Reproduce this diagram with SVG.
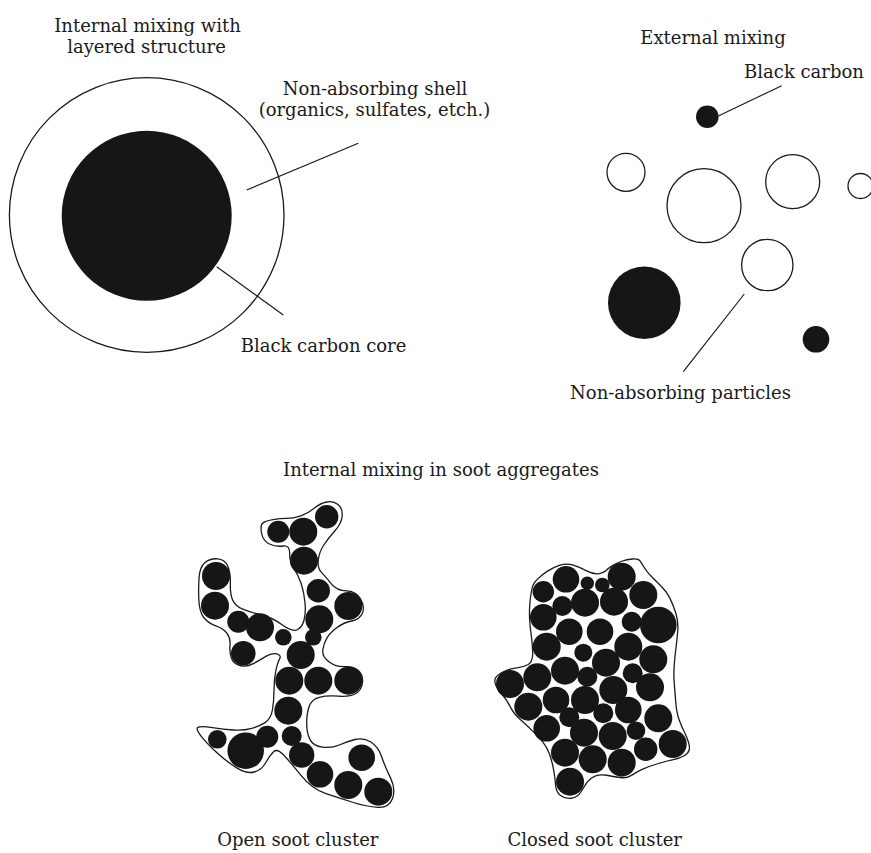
<svg xmlns="http://www.w3.org/2000/svg" width="871" height="853" viewBox="0 0 871 853">
  <style>
    text { font-family: "DejaVu Serif", "Liberation Serif", serif; font-size: 18px; fill: #1a1a1a; }
    .mid { text-anchor: middle; }
    .ring { fill: #ffffff; stroke: #1a1a1a; stroke-width: 1.3; }
    .bc { fill: #161616; stroke: none; }
    .hull { fill: #ffffff; stroke: #1a1a1a; stroke-width: 1.3; stroke-linejoin: round; }
    .leader { stroke: #1a1a1a; stroke-width: 1.2; fill: none; }
  </style>
  <rect width="871" height="853" fill="#ffffff"/>

  <!-- core-shell particle -->
  <g id="layered-particle">
    <text class="mid" x="147.5" y="31.7">Internal mixing with</text>
    <text class="mid" x="146.5" y="52.5">layered structure</text>
    <circle class="ring" cx="146.7" cy="215" r="137.3"/>
    <circle class="bc" cx="146.7" cy="215.8" r="85"/>
    <text class="mid" x="375" y="94.5">Non-absorbing shell</text>
    <text class="mid" x="374.5" y="115.5">(organics, sulfates, etch.)</text>
    <text x="240.7" y="351.7">Black carbon core</text>
  </g>

  <!-- externally mixed population -->
  <g id="external-mixing">
    <text class="mid" x="713" y="44">External mixing</text>
    <text class="mid" x="804" y="78">Black carbon</text>
    <circle class="bc" cx="707.3" cy="116.7" r="11.3"/>
    <circle class="ring" cx="626" cy="172.3" r="19"/>
    <circle class="ring" cx="704" cy="205.7" r="37"/>
    <circle class="ring" cx="792.7" cy="181.7" r="27"/>
    <circle class="ring" cx="860.5" cy="186" r="12.5"/>
    <circle class="ring" cx="767.3" cy="265" r="25.7"/>
    <circle class="bc" cx="644.3" cy="302.7" r="36.3"/>
    <circle class="bc" cx="816" cy="339.3" r="13.3"/>
    <text class="mid" x="680.5" y="399">Non-absorbing particles</text>
  </g>

  <text class="mid" x="441" y="475.7">Internal mixing in soot aggregates</text>

  <!-- open (fractal-like) soot aggregate -->
  <g id="open-cluster">
    <path class="hull" d="M261.5,533 Q260,525 263,522.85 Q266,520.7 273,519.6 Q280,518.5 286.65,518.4 Q293.3,518.3 300.8,515.8 Q308.3,513.3 314.15,508.3 Q320,503.3 326.65,502 Q333.3,500.7 338,504.5 Q342.7,508.3 342.2,515.8 Q341.7,523.3 335,530.8 Q328.3,538.3 323.8,545 Q319.3,551.7 318.3,560 Q317.3,568.3 321.65,572.65 Q326,577 331.35,583.85 Q336.7,590.7 346.35,590.85 Q356,591 360.5,598.85 Q365,606.7 362.5,613 Q360,619.3 351.65,621 Q343.3,622.7 336.65,627.85 Q330,633 327,637.85 Q324,642.7 322.85,649.7 Q321.7,656.7 329.2,662 Q336.7,667.3 345,666.65 Q353.3,666 358.3,670.5 Q363.3,675 362.5,682.5 Q361.7,690 355.85,693.5 Q350,697 338.35,696.15 Q326.7,695.3 319.2,697.3 Q311.7,699.3 309.2,706.3 Q306.7,713.3 306.7,723.3 Q306.7,733.3 310,739.65 Q313.3,746 322.5,747.15 Q331.7,748.3 339.2,745 Q346.7,741.7 355,739.5 Q363.3,737.3 370.8,742 Q378.3,746.7 381.65,756.7 Q385,766.7 390.5,777.85 Q396,789 392.5,798.5 Q389,808 377.85,807.35 Q366.7,806.7 353.35,802.5 Q340,798.3 326,793.65 Q312,789 301,775.35 Q290,761.7 283.65,755 Q277.3,748.3 273.65,751.65 Q270,755 265.85,762.5 Q261.7,770 254.2,772 Q246.7,774 236.7,767.85 Q226.7,761.7 216.7,752.5 Q206.7,743.3 200.85,735.8 Q195,728.3 198.35,727.15 Q201.7,726 212.5,727.65 Q223.3,729.3 233.3,730 Q243.3,730.7 250.8,728.7 Q258.3,726.7 264.65,722.85 Q271,719 272.5,709.5 Q274,700 274,690 Q274,680 275.65,671.65 Q277.3,663.3 279.5,659.15 Q281.7,655 276.7,653.85 Q271.7,652.7 265.85,656.35 Q260,660 253.35,663.65 Q246.7,667.3 240,665.65 Q233.3,664 231.3,657.85 Q229.3,651.7 230,645 Q230.7,638.3 227,633.3 Q223.3,628.3 215.8,625.8 Q208.3,623.3 203.8,617.5 Q199.3,611.7 198.8,599.2 Q198.3,586.7 199.15,576.7 Q200,566.7 205,562.5 Q210,558.3 217.5,558.8 Q225,559.3 227.85,566.3 Q230.7,573.3 230.35,583.3 Q230,593.3 232.5,599.65 Q235,606 243.35,609.35 Q251.7,612.7 261.7,615 Q271.7,617.3 281.7,624.5 Q291.7,631.7 296.7,630 Q301.7,628.3 303.85,620.8 Q306,613.3 305,602.65 Q304,592 301.15,583.5 Q298.3,575 293.8,568.35 Q289.3,561.7 289.65,553.35 Q290,545 283,546 Q276,547 269.5,544 Q263,541 261.5,533 Z"/>
    <g class="bc">
      <circle cx="278.3" cy="531.7" r="11"/>
      <circle cx="303.3" cy="531.7" r="14"/>
      <circle cx="326.7" cy="516.7" r="11.7"/>
      <circle cx="304" cy="560.7" r="14"/>
      <circle cx="216" cy="576" r="14"/>
      <circle cx="215" cy="605.7" r="14"/>
      <circle cx="318.3" cy="590.7" r="11.7"/>
      <circle cx="348.3" cy="606" r="14"/>
      <circle cx="238.3" cy="621.7" r="11"/>
      <circle cx="260" cy="627.3" r="14"/>
      <circle cx="283.3" cy="637.3" r="8.3"/>
      <circle cx="319.3" cy="619.3" r="14"/>
      <circle cx="313.3" cy="637.3" r="8.3"/>
      <circle cx="243.3" cy="653.3" r="12.3"/>
      <circle cx="300.7" cy="655" r="14"/>
      <circle cx="289.3" cy="680.7" r="14"/>
      <circle cx="318.3" cy="680.7" r="14"/>
      <circle cx="348.3" cy="680.7" r="14"/>
      <circle cx="288.3" cy="710.7" r="14"/>
      <circle cx="291.7" cy="736" r="10"/>
      <circle cx="217.3" cy="739.3" r="9.3"/>
      <circle cx="245.7" cy="750.7" r="18.3"/>
      <circle cx="267.3" cy="736.7" r="11"/>
      <circle cx="301.7" cy="755" r="12.7"/>
      <circle cx="320" cy="774.3" r="13.3"/>
      <circle cx="361.7" cy="757.7" r="13.3"/>
      <circle cx="348.3" cy="785" r="14"/>
      <circle cx="378.3" cy="791.7" r="14"/>
    </g>
    <text class="mid" x="297.8" y="846.3">Open soot cluster</text>
  </g>

  <!-- closed (compact) soot aggregate -->
  <g id="closed-cluster">
    <path class="hull" d="M530.85,595 Q531.7,590 532.5,586.65 Q533.3,583.3 537.5,579.15 Q541.7,575 547.5,571.15 Q553.3,567.3 560,565.15 Q566.7,563 573.35,565.15 Q580,567.3 586.65,570.8 Q593.3,574.3 598.3,573.8 Q603.3,573.3 605.8,570.8 Q608.3,568.3 612.5,565.65 Q616.7,563 621.7,561.25 Q626.7,559.5 632.5,559 Q638.3,558.5 640,560.9 Q641.7,563.3 644.2,567.5 Q646.7,571.7 651.7,576.7 Q656.7,581.7 661.7,586.7 Q666.7,591.7 670,598.35 Q673.3,605 675.9,613.5 Q678.5,622 677.75,631 Q677,640 675.15,655 Q673.3,670 674.15,681.65 Q675,693.3 675.85,703.3 Q676.7,713.3 679.2,720 Q681.7,726.7 684.2,731.7 Q686.7,736.7 688.35,741.7 Q690,746.7 689.15,750 Q688.3,753.3 684.15,755.8 Q680,758.3 673.35,759.65 Q666.7,761 658.35,763.5 Q650,766 643.35,768.85 Q636.7,771.7 631.85,775.1 Q627,778.5 620.15,777.5 Q613.3,776.5 606.65,775.25 Q600,774 595,776.15 Q590,778.3 587.25,782.15 Q584.5,786 581,791.75 Q577.5,797.5 571.25,798.25 Q565,799 560.5,795.5 Q556,792 555.5,784.35 Q555,776.7 553.35,768.35 Q551.7,760 549.2,753.35 Q546.7,746.7 542.5,741.7 Q538.3,736.7 532.5,730.85 Q526.7,725 520,719.15 Q513.3,713.3 510.15,706.65 Q507,700 502.65,695 Q498.3,690 496.15,685.85 Q494,681.7 495.35,678.35 Q496.7,675 503.35,671.75 Q510,668.5 516.65,667.9 Q523.3,667.3 528.3,664.5 Q533.3,661.7 532.65,650.85 Q532,640 531,633.35 Q530,626.7 529.65,620 Q529.3,613.3 529.65,606.65 Q530,600 530.85,595 Z"/>
    <g class="bc">
      <circle cx="566" cy="579.3" r="13.3"/>
      <circle cx="587.3" cy="583.3" r="6.7"/>
      <circle cx="602.3" cy="585" r="7.3"/>
      <circle cx="621.7" cy="576.7" r="14"/>
      <circle cx="543.3" cy="591.7" r="10.7"/>
      <circle cx="562.3" cy="606" r="10"/>
      <circle cx="585" cy="602.7" r="14"/>
      <circle cx="614" cy="601.7" r="14"/>
      <circle cx="643.3" cy="595" r="14"/>
      <circle cx="543.3" cy="617.3" r="13.3"/>
      <circle cx="569.3" cy="631.7" r="13.3"/>
      <circle cx="600" cy="631.7" r="13.3"/>
      <circle cx="631.7" cy="621.7" r="10"/>
      <circle cx="658.3" cy="625" r="18.3"/>
      <circle cx="546.7" cy="646.7" r="14"/>
      <circle cx="583.3" cy="652.7" r="9"/>
      <circle cx="606" cy="662.7" r="14"/>
      <circle cx="628.3" cy="646.7" r="14"/>
      <circle cx="653.3" cy="659.3" r="14"/>
      <circle cx="565" cy="670.7" r="14"/>
      <circle cx="537.3" cy="677.3" r="14"/>
      <circle cx="510" cy="684" r="14"/>
      <circle cx="587.3" cy="676.7" r="10"/>
      <circle cx="632.7" cy="673.3" r="10"/>
      <circle cx="613.3" cy="690" r="14"/>
      <circle cx="650" cy="687.3" r="14"/>
      <circle cx="528.3" cy="706.7" r="14"/>
      <circle cx="556" cy="700" r="13.3"/>
      <circle cx="585" cy="700" r="14"/>
      <circle cx="603.3" cy="713.3" r="10"/>
      <circle cx="628.3" cy="710" r="13.3"/>
      <circle cx="658.3" cy="718.3" r="14"/>
      <circle cx="569.3" cy="717.3" r="10"/>
      <circle cx="546.7" cy="728.3" r="13.3"/>
      <circle cx="584" cy="732.7" r="14"/>
      <circle cx="612.7" cy="736" r="14"/>
      <circle cx="636" cy="730.7" r="9.3"/>
      <circle cx="645.7" cy="749.3" r="11.7"/>
      <circle cx="672.7" cy="744" r="14"/>
      <circle cx="565" cy="752.7" r="14"/>
      <circle cx="592.7" cy="759.3" r="14"/>
      <circle cx="621.7" cy="762.7" r="14"/>
      <circle cx="570" cy="781.7" r="14"/>
    </g>
    <text class="mid" x="594.7" y="846.3">Closed soot cluster</text>
  </g>

  <!-- label leader lines -->
  <g id="connectors" class="leader">
    <line x1="246.7" y1="190" x2="358.3" y2="143.3"/>
    <line x1="216.7" y1="266.7" x2="283.3" y2="315"/>
    <line x1="718.3" y1="116" x2="781.7" y2="85.7"/>
    <line x1="744.3" y1="294" x2="683.3" y2="371.7"/>
  </g>
</svg>
